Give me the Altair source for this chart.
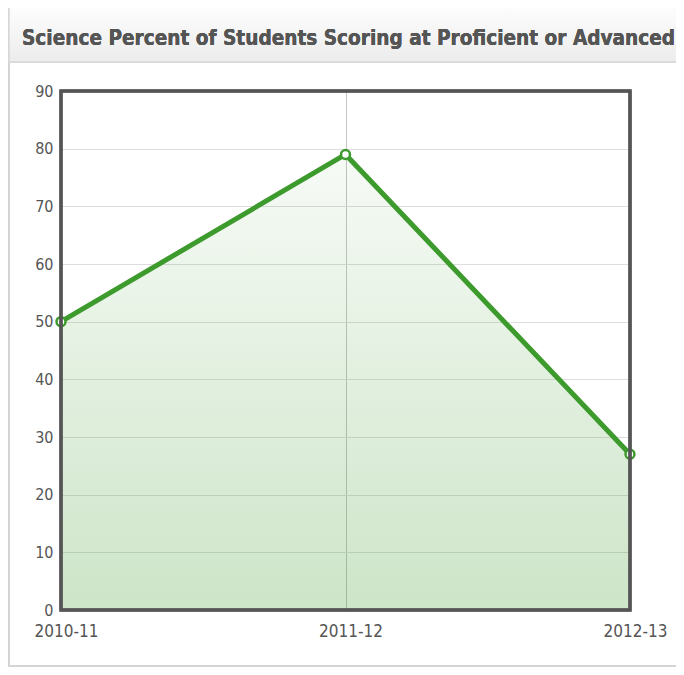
import altair as alt
import pandas as pd

years = ["2010-11", "2011-12", "2012-13"]
percent = [50, 79, 27]
title_text = "Science Percent of Students Scoring at Proficient or Advanced"
y_ticks = [0, 10, 20, 30, 40, 50, 60, 70, 80, 90]

df = pd.DataFrame({"year": years, "pct": percent})

FONT = "DejaVu Sans Condensed, Liberation Sans Narrow, DejaVu Sans"
W, H = 569, 519

xenc = alt.X("year:N", sort=years, scale=alt.Scale(padding=0),
             axis=alt.Axis(title=None, labelAngle=0, grid=True, gridColor="#c4c4c4",
                           domain=False, ticks=False, labelPadding=13, labelOffset=5,
                           labelFont=FONT, labelFontSize=17, labelColor="#555555"))
yenc = alt.Y("pct:Q", scale=alt.Scale(domain=[0, 90], nice=False),
             axis=alt.Axis(title=None, values=y_ticks, grid=True, gridColor="#dddddd",
                           domain=False, ticks=False, labelPadding=8,
                           labelFont=FONT, labelFontSize=16, labelColor="#555555"))

base = alt.Chart(df)

panel = base.mark_rect(fill="transparent", stroke="#d4d4d4", strokeWidth=1.5).encode(
    x=alt.value(-52), x2=alt.value(640), y=alt.value(-83), y2=alt.value(575)
)
titlebar = base.mark_rect(
    fill=alt.Gradient(gradient="linear", x1=0, x2=0, y1=0, y2=1,
                      stops=[alt.GradientStop(color="#fefefe", offset=0),
                             alt.GradientStop(color="#ececec", offset=1)]),
    stroke="#d8d8d8", strokeWidth=1.5
).encode(x=alt.value(-52), x2=alt.value(640), y=alt.value(-87), y2=alt.value(-29))
title = base.mark_text(align="left", baseline="alphabetic", font=FONT, fontSize=20.6,
                       fontWeight="bold", color="#555555").encode(
    x=alt.value(-39), y=alt.value(-46), text=alt.value(title_text)
)

area = base.mark_area(
    color=alt.Gradient(gradient="linear", x1=0, x2=0, y1=0, y2=1,
                       stops=[alt.GradientStop(color="rgba(61,154,44,0.045)", offset=0),
                              alt.GradientStop(color="rgba(61,154,44,0.26)", offset=1)]),
    opacity=1
).encode(x=xenc, y=yenc)
line = base.mark_line(color="#3d9a2c", strokeWidth=5).encode(x=xenc, y=yenc)
pts = base.mark_point(filled=True, fill="white", stroke="#3d9a2c", strokeWidth=2.5,
                      size=80, opacity=1).encode(x=xenc, y=yenc)
frame = base.mark_rect(fill="transparent", stroke="#555555", strokeWidth=3).encode(
    x=alt.value(0), x2=alt.value(W), y=alt.value(0), y2=alt.value(H)
)

chart = alt.layer(panel, titlebar, title, area, line, pts, frame).properties(
    width=W, height=H,
    autosize=alt.AutoSizeParams(type="none"),
    padding={"left": 53, "top": 83, "right": 46, "bottom": 57},
).configure_view(stroke=None).configure(background="white")

chart.save("out.html", embed_options={"renderer": "svg", "actions": False})
